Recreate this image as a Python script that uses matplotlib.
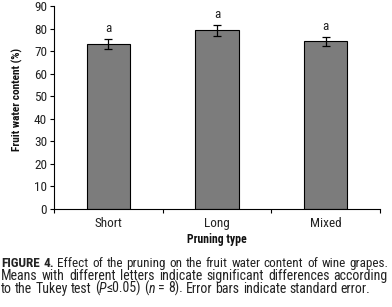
import numpy as np
import matplotlib
matplotlib.use('Agg')
import matplotlib.pyplot as plt
from matplotlib.ticker import FixedLocator, NullFormatter

plt.rcParams['font.family'] = ['Roboto Condensed', 'DejaVu Sans']

categories = ['Short', 'Long', 'Mixed']
means = [73.2, 79.3, 74.4]
errors = [2.2, 2.4, 2.0]
letters = ['a', 'a', 'a']

caption_lines = [
    [('FIGURE 4. ', 'bold'), ('Effect of the pruning on the fruit water content of wine grapes.', 'normal')],
    [('Means with different letters indicate significant differences according', 'normal')],
    [('to the Tukey test (', 'normal'), ('P', 'italic'), ('\u22640.05) (', 'normal'), ('n', 'italic'),
     (' = 8). Error bars indicate standard error.', 'normal')],
]

W, H = 392, 307
fig = plt.figure(figsize=(W / 100, H / 100), dpi=100)
ax = fig.add_axes([54 / W, 1 - 209 / H, 326 / W, 203 / H])

x = np.arange(len(categories))
ax.bar(x, means, width=0.4, color='#7c7c7c', edgecolor='black', linewidth=0.8, zorder=2)
ax.errorbar(x, means, yerr=errors, fmt='none', ecolor='black', elinewidth=0.9,
            capsize=3.2, capthick=0.9, zorder=3)
for xi, m, e, l in zip(x, means, errors, letters):
    ax.text(xi, m + e + 1.8, l, ha='center', va='bottom', fontsize=9.5, color='#222222')

ax.set_xlim(-0.5, 2.5)
ax.set_ylim(0, 90)
ax.set_yticks(np.arange(0, 91, 10))
ax.xaxis.set_major_locator(FixedLocator([-0.5, 0.5, 1.5, 2.5]))
ax.xaxis.set_major_formatter(NullFormatter())
ax.xaxis.set_minor_locator(FixedLocator(x))
ax.set_xticklabels(categories, minor=True)
ax.tick_params(axis='x', which='minor', length=0, pad=6, labelsize=9.5, labelcolor='#222222')
ax.tick_params(axis='x', which='major', direction='out', length=3, width=0.8)
ax.tick_params(axis='y', direction='out', length=3, width=0.8, labelsize=9.5, labelcolor='#222222', pad=2)
for s in ['top', 'right']:
    ax.spines[s].set_visible(False)
for s in ['left', 'bottom']:
    ax.spines[s].set_linewidth(0.8)

# axis titles placed where the reference has them
fig.text(17 / W, 1 - 99 / H, 'Fruit water content (%)', rotation=90, ha='center', va='center',
         fontsize=8.2, fontweight='bold', color='#111111')
fig.text(217 / W, 1 - 239 / H, 'Pruning type', ha='center', va='center',
         fontsize=8.5, fontweight='bold', color='#111111')

# caption, justified by hand
renderer = fig.canvas.get_renderer()
x0, x1 = 1, 388
baselines = [267, 280, 293]
cap_size = 10.0


def style_kw(st):
    if st == 'bold':
        return dict(fontweight='bold')
    if st == 'italic':
        return dict(fontstyle='italic')
    return {}


def width_of(t, st, size):
    tt = fig.text(0, 0, t, fontsize=size, **style_kw(st))
    bb = tt.get_window_extent(renderer)
    tt.remove()
    return bb.width


def measure(groups, size):
    gw = [[width_of(t, st, size) for t, st in g] for g in groups]
    total = sum(sum(w) for w in gw)
    sp = width_of('a b', 'normal', size) - width_of('ab', 'normal', size)
    return gw, total, sp


for li, (segs, yb) in enumerate(zip(caption_lines, baselines)):
    # split into words, a word may be made of several styled pieces
    tokens = []
    for txt, st in segs:
        parts = txt.split(' ')
        for pi, p in enumerate(parts):
            if pi > 0:
                tokens.append(None)
            if p:
                tokens.append((p, st))
    groups = [[]]
    for tk in tokens:
        if tk is None:
            if groups[-1]:
                groups.append([])
        else:
            groups[-1].append(tk)
    groups = [g for g in groups if g]

    size = cap_size
    gw, total, sp = measure(groups, size)
    while total + max(sp, 3.2) * (len(groups) - 1) > x1 - x0:
        size -= 0.1
        gw, total, sp = measure(groups, size)
    space = sp
    if li < len(caption_lines) - 1:
        space = (x1 - x0 - total) / (len(groups) - 1)
    cx = x0
    for g, ws in zip(groups, gw):
        for (t, st), w in zip(g, ws):
            fig.text(cx / W, 1 - yb / H, t, fontsize=size, ha='left', va='baseline',
                     color='#222222', **style_kw(st))
            cx += w
        cx += space

fig.savefig('out.png', dpi=100)
